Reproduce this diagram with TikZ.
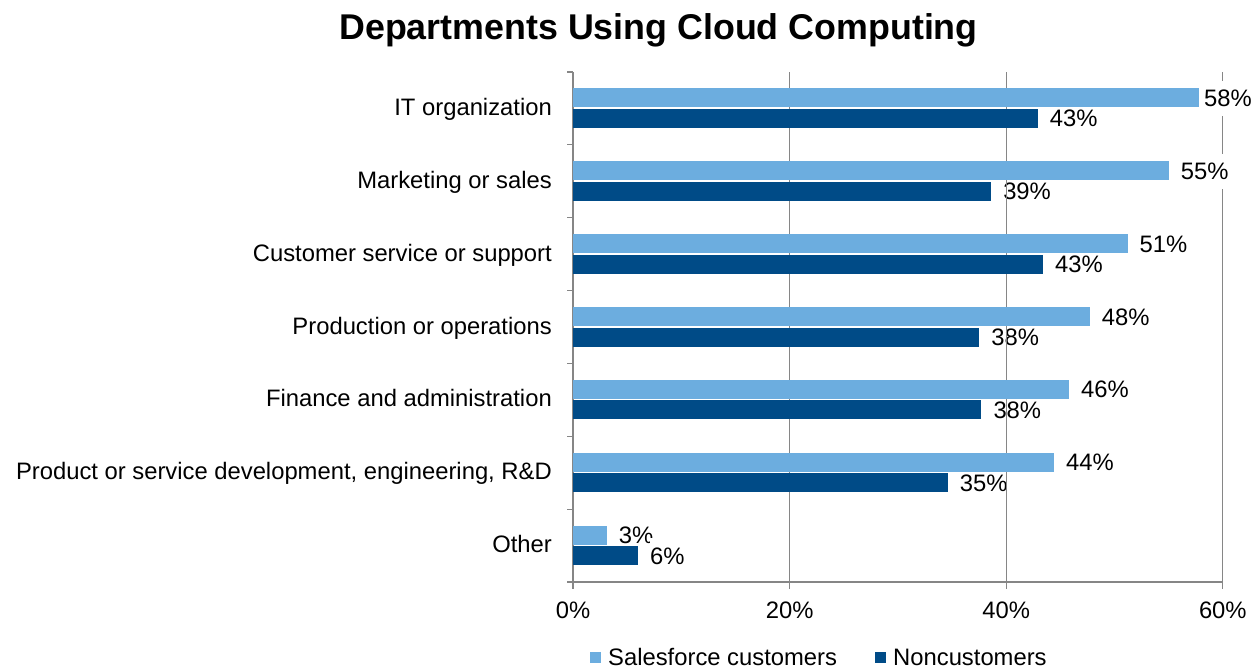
\documentclass[tikz,border=0pt]{standalone}
\usepackage{fontspec}
\setmainfont{Liberation Sans}
\usetikzlibrary{positioning}
\definecolor{sfblue}{RGB}{108,173,223}
\definecolor{ncblue}{RGB}{0,75,135}
\definecolor{gridgray}{RGB}{134,134,134}
\tikzset{
  lbl/.style={font=\fontsize{23.8}{28}\selectfont, inner sep=0pt},
  catlabel/.style={lbl, anchor=base east},
  vallabel/.style={lbl, anchor=base west, fill=white, inner ysep=9pt},
  ticklabel/.style={lbl, anchor=base},
  titlelabel/.style={font=\bfseries\fontsize{35.8}{42}\selectfont, inner sep=0pt, anchor=base},
  gridline/.style={draw=gridgray, line width=1.2pt},
  swatch/.style={minimum size=11pt, inner sep=0pt}
}
% name / salesforce value / label / noncustomer value / label
\def\deptdata{IT organization/57.8/58/42.9/43,
  Marketing or sales/55/55/38.6/39,
  Customer service or support/51.2/51/43.4/43,
  Production or operations/47.7/48/37.5/38,
  Finance and administration/45.8/46/37.7/38,
  {Product or service development, engineering, R\&D}/44.4/44/34.6/35,
  Other/3.1/3/6/6}

\begin{document}
\begin{tikzpicture}[x=1pt,y=-1pt]
  \useasboundingbox (0,0) rectangle (1260,669);
  \def\xo{573}\def\sc{10.83}\def\band{72.86}
  % title
  \node [titlelabel] (title) at (658.5,39.5) {Departments Using Cloud Computing};
  % right gridline, hidden behind the value labels
  \draw [gridline] (\xo+60*\sc,72) -- (\xo+60*\sc,589);
  % category and value labels
  \foreach \name/\va/\la/\vb/\lb [count=\i from 0] in \deptdata {
    \pgfmathsetmacro\c{72+(\i+0.5)*\band}
    \pgfmathsetmacro\lxa{min(\xo+\va*\sc+12,1204)}
    \pgfmathsetmacro\lxb{min(\xo+\vb*\sc+12,1204)}
    \node [catlabel] (cat\i) at (552,\c+7) {\name};
    \node [vallabel] (sflbl\i) at (\lxa,\c-10.5+8.5) {\la\%};
    \node [vallabel] (nclbl\i) at (\lxb,\c+10+8.5) {\lb\%};
  }
  % gridlines and axes
  \foreach \p in {20,40}
    \draw [gridline] (\xo+\p*\sc,72) -- (\xo+\p*\sc,589);
  \draw [gridline] (\xo,72) -- (\xo,589);
  \draw [gridline] (\xo,582) -- (\xo+60*\sc,582);
  \foreach \k in {0,...,7}
    \draw [gridline] (\xo-6,72+\k*\band) -- (\xo,72+\k*\band);
  \foreach \p [count=\j] in {0,20,40,60}
    \node [ticklabel] (xt\j) at (\xo+\p*\sc,618) {\p\%};
  % bars
  \foreach \name/\va/\la/\vb/\lb [count=\i from 0] in \deptdata {
    \pgfmathsetmacro\c{72+(\i+0.5)*\band}
    \fill [sfblue] (\xo,\c-20) rectangle (\xo+\va*\sc,\c-1);
    \fill [ncblue] (\xo,\c+0.5) rectangle (\xo+\vb*\sc,\c+19.5);
  }
  % legend
  \node [swatch, fill=sfblue] (sfkey) at (595.5,657.5) {};
  \node [lbl, anchor=base west] (sftext) at (608,665) {Salesforce customers};
  \node [swatch, fill=ncblue] (nckey) at (880.5,657.5) {};
  \node [lbl, anchor=base west] (nctext) at (893,665) {Noncustomers};
\end{tikzpicture}
\end{document}
